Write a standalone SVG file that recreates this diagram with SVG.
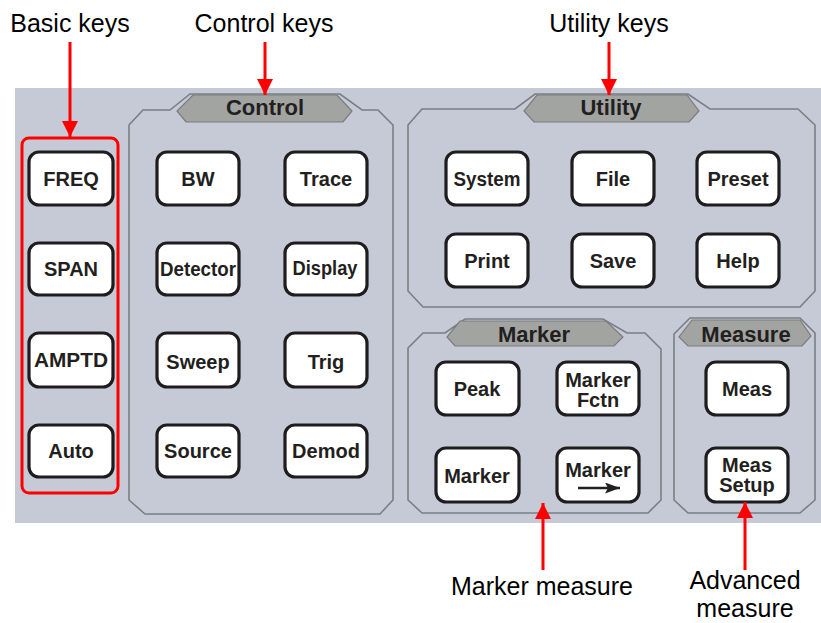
<svg xmlns="http://www.w3.org/2000/svg" width="821" height="623" viewBox="0 0 821 623">
<defs>
<style>
.grp{fill:none;stroke:#7a7e84;stroke-width:1.6}
.tab{fill:#a2a4a2;stroke:#7a7c7c;stroke-width:1.2}
.tabt{font-family:"Liberation Sans",Arial,sans-serif;font-weight:bold;font-size:22px;fill:#231f20;text-anchor:middle}
.key rect{fill:#fff;stroke:#1e1c1c;stroke-width:3.2}
.key text{font-family:"Liberation Sans",Arial,sans-serif;font-weight:bold;font-size:20px;fill:#231f20;text-anchor:middle}
.lbl{font-family:"Liberation Sans",Arial,sans-serif;font-size:25px;fill:#000;text-anchor:middle}
.red{stroke:#ff0000;stroke-width:3;fill:none}
</style>
<marker id="ah" markerUnits="userSpaceOnUse" markerWidth="16" markerHeight="16" viewBox="0 0 16 16" refX="16" refY="8" orient="auto">
<path d="M0,0 L16,8 L0,16 Z" fill="#ff0000"/>
</marker>
<marker id="bk" markerUnits="userSpaceOnUse" markerWidth="15" markerHeight="11" viewBox="0 0 15 11" refX="15" refY="5.5" orient="auto">
<path d="M0,0 L15,5.5 L0,11 L3,5.5 Z" fill="#231f20"/>
</marker>
</defs>
<rect x="15" y="88" width="806" height="435" fill="#c6cad6"/>

<g id="group-control">
<path class="grp" d="M129,125 L143,110 L170,110 L190,94 L340,94 L362,110 L378,110 L393,125 L393,500 L380,514 L145,514 L129,500 Z"/>
<polygon class="tab" points="193,95 337,95 352,111 343,122 186,122 177,111"/>
<text class="tabt" x="265" y="115">Control</text>
</g>
<g id="group-utility">
<path class="grp" d="M408,125 L422,109 L515,109 L535,94 L688,94 L710,109 L798,109 L815,125 L815,291 L800,307 L423,307 L408,291 Z"/>
<polygon class="tab" points="537,95 687,95 699,111 689,122 534,122 524,111"/>
<text class="tabt" x="611" y="115">Utility</text>
</g>
<g id="group-marker">
<path class="grp" d="M408,348 L423,333 L445,333 L465,319 L603,319 L627,333 L645,333 L661,349 L661,500 L648,513 L422,513 L408,500 Z"/>
<polygon class="tab" points="460,321 606,321 623,337 614,346 455,346 447,337"/>
<text class="tabt" x="534" y="342">Marker</text>
</g>
<g id="group-measure">
<path class="grp" d="M674,334 L690,318 L800,318 L815,333 L815,500 L800,513 L688,513 L674,500 Z"/>
<polygon class="tab" points="692,320 800,320 811,336 802,346 688,346 679,337"/>
<text class="tabt" x="746" y="342">Measure</text>
</g>
<g id="group-basic">
<rect x="22" y="138" width="96" height="355" rx="7" class="red"/>
</g>

<g id="key-freq" class="key"><rect x="29" y="152" width="84" height="53" rx="10"/><text x="71" y="186">FREQ</text></g>
<g id="key-span" class="key"><rect x="29" y="243" width="84" height="52" rx="10"/><text x="71" y="276">SPAN</text></g>
<g id="key-amptd" class="key"><rect x="29" y="333" width="84" height="54" rx="10"/><text x="71" y="367" textLength="74" lengthAdjust="spacingAndGlyphs">AMPTD</text></g>
<g id="key-auto" class="key"><rect x="29" y="425" width="84" height="52" rx="10"/><text x="71" y="458">Auto</text></g>

<g id="key-bw" class="key"><rect x="157" y="152" width="82" height="53" rx="10"/><text x="198" y="186">BW</text></g>
<g id="key-trace" class="key"><rect x="285" y="152" width="82" height="53" rx="10"/><text x="326" y="186">Trace</text></g>
<g id="key-detector" class="key"><rect x="157" y="243" width="82" height="52" rx="10"/><text x="198" y="276" textLength="76" lengthAdjust="spacingAndGlyphs">Detector</text></g>
<g id="key-display" class="key"><rect x="285" y="243" width="82" height="52" rx="10"/><text x="325" y="275" textLength="65" lengthAdjust="spacingAndGlyphs">Display</text></g>
<g id="key-sweep" class="key"><rect x="157" y="333" width="82" height="54" rx="10"/><text x="198" y="369">Sweep</text></g>
<g id="key-trig" class="key"><rect x="285" y="333" width="82" height="54" rx="10"/><text x="326" y="369">Trig</text></g>
<g id="key-source" class="key"><rect x="157" y="425" width="82" height="52" rx="10"/><text x="198" y="458">Source</text></g>
<g id="key-demod" class="key"><rect x="285" y="425" width="82" height="52" rx="10"/><text x="326" y="458">Demod</text></g>

<g id="key-system" class="key"><rect x="446" y="152" width="82" height="53" rx="10"/><text x="487" y="186" textLength="67" lengthAdjust="spacingAndGlyphs">System</text></g>
<g id="key-file" class="key"><rect x="572" y="152" width="82" height="53" rx="10"/><text x="613" y="186">File</text></g>
<g id="key-preset" class="key"><rect x="697" y="152" width="82" height="53" rx="10"/><text x="738" y="186">Preset</text></g>
<g id="key-print" class="key"><rect x="446" y="234" width="82" height="53" rx="10"/><text x="487" y="268">Print</text></g>
<g id="key-save" class="key"><rect x="572" y="234" width="82" height="53" rx="10"/><text x="613" y="268">Save</text></g>
<g id="key-help" class="key"><rect x="697" y="234" width="82" height="53" rx="10"/><text x="738" y="268">Help</text></g>

<g id="key-peak" class="key"><rect x="436" y="362" width="83" height="53" rx="10"/><text x="477" y="396">Peak</text></g>
<g id="key-markerfctn" class="key"><rect x="557" y="362" width="82" height="53" rx="10"/><text x="598" y="387">Marker</text><text x="598" y="407">Fctn</text></g>
<g id="key-marker" class="key"><rect x="436" y="448" width="83" height="54" rx="10"/><text x="477" y="483">Marker</text></g>
<g id="key-markerto" class="key"><rect x="557" y="448" width="82" height="54" rx="10"/><text x="598" y="477">Marker</text><line x1="578" y1="488" x2="620" y2="488" stroke="#231f20" stroke-width="2.4" marker-end="url(#bk)"/></g>

<g id="key-meas" class="key"><rect x="706" y="362" width="82" height="53" rx="10"/><text x="747" y="396">Meas</text></g>
<g id="key-meassetup" class="key"><rect x="706" y="448" width="82" height="54" rx="10"/><text x="747" y="472">Meas</text><text x="747" y="492">Setup</text></g>

<g id="connectors">
<line class="red" x1="70" y1="42" x2="70" y2="137" marker-end="url(#ah)"/>
<line class="red" x1="265" y1="42" x2="265" y2="95" marker-end="url(#ah)"/>
<line class="red" x1="609" y1="42" x2="609" y2="95" marker-end="url(#ah)"/>
<line class="red" x1="543" y1="570" x2="543" y2="503" marker-end="url(#ah)"/>
<line class="red" x1="745" y1="570" x2="745" y2="502" marker-end="url(#ah)"/>
</g>

<g id="labels">
<text class="lbl" x="70" y="32">Basic keys</text>
<text class="lbl" x="264" y="32">Control keys</text>
<text class="lbl" x="609" y="32">Utility keys</text>
<text class="lbl" x="542" y="595">Marker measure</text>
<text class="lbl" x="745" y="589">Advanced</text>
<text class="lbl" x="745" y="617">measure</text>
</g>
</svg>
